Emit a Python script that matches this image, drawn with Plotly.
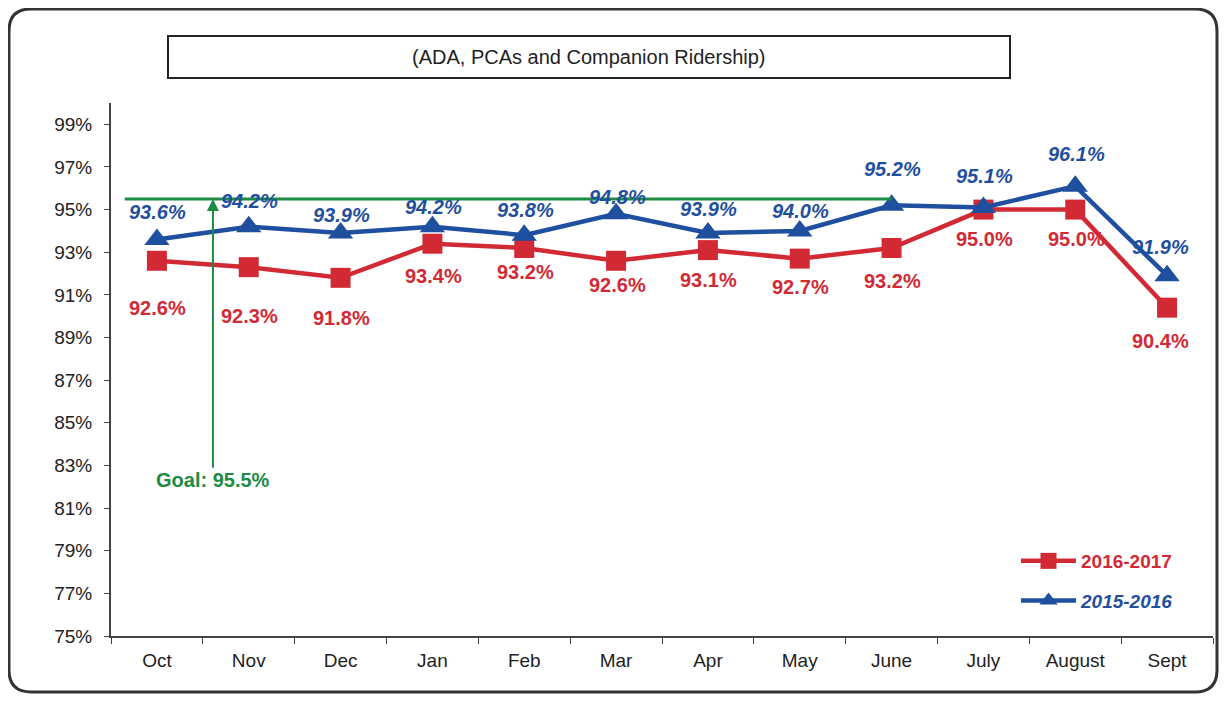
import plotly.graph_objects as go

months = ["Oct", "Nov", "Dec", "Jan", "Feb", "Mar", "Apr", "May", "June", "July", "August", "Sept"]
fy2017 = [92.6, 92.3, 91.8, 93.4, 93.2, 92.6, 93.1, 92.7, 93.2, 95.0, 95.0, 90.4]
fy2016 = [93.6, 94.2, 93.9, 94.2, 93.8, 94.8, 93.9, 94.0, 95.2, 95.1, 96.1, 91.9]
goal = 95.5
y_ticks = list(range(75, 100, 2))
y_tick_text = [f"{v}%" for v in y_ticks]

RED = "#d22a35"
BLUE = "#1f4f9f"
GREEN = "#1d8a45"
FONT = "Liberation Sans, Arial"

OFF = 8  # page body margin
W, H = 1227 - 2 * OFF, 702 - 2 * OFF
# plot area in reference pixels
PL, PR, PT, PB = 111, 1213, 103, 636
L, R, T, B = PL - OFF, (W + OFF) - PR, PT - OFF, (H + OFF) - PB
PW, PH = PR - PL, PB - PT


def px(x):
    return (x - PL) / PW


def py(y):
    return (PB - y) / PH


fig = go.Figure()
fig.add_trace(go.Scatter(
    x=months, y=fy2017, mode="lines+markers",
    name="<b>2016-2017</b>", legendgroup="a",
    line=dict(color=RED, width=4.5),
    marker=dict(symbol="square", size=20, color=RED),
))
fig.add_trace(go.Scatter(
    x=months, y=fy2016, mode="lines+markers",
    name=f"<span style='color:{BLUE}'><b><i>2015-2016</i></b></span>", legendgroup="b",
    line=dict(color=BLUE, width=4.5),
    marker=dict(symbol="triangle-up", size=22, color=BLUE),
))

red_shift = [-47, -49, -40, -32, -24, -24, -30, -28, -33, -29, -29, -33]
blue_shift = [27, 26, 18, 20, 25, 17, 24, 20, 36, 31, 32, 29]
annotations = []
for i, (m, v) in enumerate(zip(months, fy2017)):
    annotations.append(dict(
        x=m, y=v, text=f"<b>{v:.1f}%</b>", showarrow=False, yshift=red_shift[i],
        xshift=-7 if i == 11 else 1,
        font=dict(family=FONT, size=20, color=RED)))
for i, (m, v) in enumerate(zip(months, fy2016)):
    annotations.append(dict(
        x=m, y=v, text=f"<b><i>{v:.1f}%</i></b>", showarrow=False, yshift=blue_shift[i],
        xshift=-7 if i == 11 else 1,
        font=dict(family=FONT, size=20, color=BLUE)))

# Goal arrow + label
annotations.append(dict(
    x=0.61, y=goal, xref="x", yref="y",
    ax=0.61, ay=82.3, axref="x", ayref="y",
    text="<b>Goal: 95.5%</b>", showarrow=True,
    arrowhead=2, arrowsize=1.2, arrowwidth=2, arrowcolor=GREEN,
    font=dict(family=FONT, size=20, color=GREEN)))

# Title in box
annotations.append(dict(
    x=px(589), y=py(57), xref="paper", yref="paper", showarrow=False,
    xanchor="center", yanchor="middle",
    text="(ADA, PCAs and Companion Ridership)",
    font=dict(family=FONT, size=20, color="#222")))

shapes = [
    dict(type="line", xref="x", yref="y", x0=-0.35, x1=8, y0=goal, y1=goal,
         line=dict(color=GREEN, width=3)),
    dict(type="rect", xref="paper", yref="paper",
         x0=px(168), x1=px(1010), y0=py(36), y1=py(78),
         line=dict(color="#222", width=2), fillcolor="rgba(0,0,0,0)"),
]

# rounded outer frame
x0, x1, y0, y1, r = 9, 1217, 9, 692, 22
pts = lambda x, y: f"{px(x):.5f},{py(y):.5f}"
path = (f"M {pts(x0 + r, y0)} L {pts(x1 - r, y0)} Q {pts(x1, y0)} {pts(x1, y0 + r)} "
        f"L {pts(x1, y1 - r)} Q {pts(x1, y1)} {pts(x1 - r, y1)} "
        f"L {pts(x0 + r, y1)} Q {pts(x0, y1)} {pts(x0, y1 - r)} "
        f"L {pts(x0, y0 + r)} Q {pts(x0, y0)} {pts(x0 + r, y0)} Z")
shapes.append(dict(type="path", xref="paper", yref="paper", path=path,
                   line=dict(color="#333", width=3)))

fig.update_layout(
    width=W, height=H,
    margin=dict(l=L, r=R, t=T, b=B),
    paper_bgcolor="white", plot_bgcolor="white",
    font=dict(family=FONT, size=19, color="#222"),
    annotations=annotations,
    shapes=shapes,
    showlegend=True,
    legend=dict(x=px(1016), y=py(542), xanchor="left", yanchor="top",
                bgcolor="rgba(0,0,0,0)", itemwidth=55, tracegroupgap=12,
                traceorder="grouped",
                font=dict(family=FONT, size=19, color=RED)),
    xaxis=dict(type="category", range=[-0.5, 11.5], showgrid=False,
               showline=True, linecolor="#444", linewidth=2,
               ticks="outside", tickson="boundaries", ticklen=6, tickcolor="#444",
               ticklabelstandoff=6,
               tickfont=dict(family=FONT, size=19, color="#222")),
    yaxis=dict(range=[75, 100], tickmode="array", tickvals=y_ticks, ticktext=y_tick_text,
               showgrid=False, zeroline=False, showline=True, linecolor="#444", linewidth=2,
               ticks="outside", ticklen=5, tickcolor="#444", ticklabelstandoff=8,
               tickfont=dict(family=FONT, size=19, color="#222")),
)

fig.write_html("out.html")
